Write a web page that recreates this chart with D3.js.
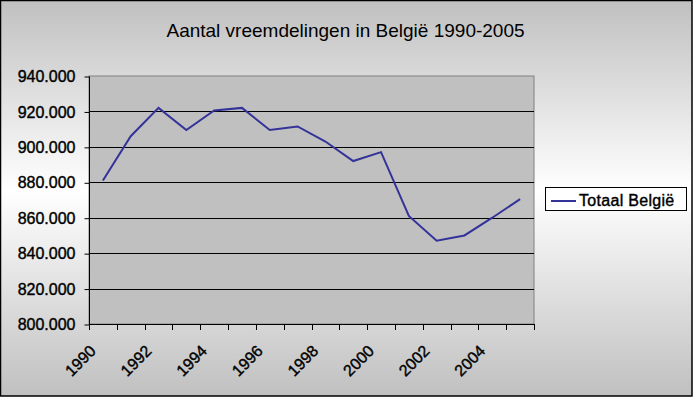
<!DOCTYPE html>
<html>
<head>
<meta charset="utf-8">
<script src="https://cdn.jsdelivr.net/npm/d3@7"></script>
<style>
  body { margin: 0; }
  svg { display: block; font-family: "Liberation Sans", Arial, sans-serif; }
</style>
</head>
<body>
<div id="chart"></div>
<script>
// data
var years = ["1990", "1991", "1992", "1993", "1994", "1995", "1996", "1997",
             "1998", "1999", "2000", "2001", "2002", "2003", "2004", "2005"];
var totaal = [881000, 906000, 922000, 909500, 920500, 922000, 909500, 911500,
              903000, 892000, 897000, 861000, 847000, 850000, 860000, 870500];
var yTicks = [800000, 820000, 840000, 860000, 880000, 900000, 920000, 940000];
var xLabels = ["1990", "1992", "1994", "1996", "1998", "2000", "2002", "2004"];
var title = "Aantal vreemdelingen in België 1990-2005";
var seriesName = "Totaal België";

var svgWidth = 693, svgHeight = 397;
var plot = { left: 89, right: 534, top: 76, bottom: 324 };

var svg = d3.select("#chart").append("svg")
  .attr("width", svgWidth)
  .attr("height", svgHeight);

// background gradient (grey - white - grey)
var grad = svg.append("defs").append("linearGradient")
  .attr("id", "bg")
  .attr("x1", 0).attr("y1", 0).attr("x2", 0).attr("y2", 1);
grad.append("stop").attr("offset", "0%").attr("stop-color", "#c0c0c0");
grad.append("stop").attr("offset", "48%").attr("stop-color", "#ffffff");
grad.append("stop").attr("offset", "100%").attr("stop-color", "#c0c0c0");

svg.append("rect")
  .attr("x", 0.5).attr("y", 0.5)
  .attr("width", svgWidth - 1.5).attr("height", svgHeight - 1.5)
  .attr("fill", "url(#bg)")
  .attr("stroke", "#000")
  .attr("stroke-width", 1.5);

// title
svg.append("text")
  .attr("x", 345.5)
  .attr("y", 36.5)
  .attr("text-anchor", "middle")
  .attr("font-size", "19px")
  .attr("fill", "#000")
  .text(title);

// scales
var xScale = d3.scaleBand()
  .domain(years)
  .range([plot.left, plot.right])
  .padding(0);

var yScale = d3.scaleLinear()
  .domain([800000, 940000])
  .range([plot.bottom, plot.top]);

var nl = d3.formatLocale({ decimal: ",", thousands: ".", grouping: [3], currency: ["€", ""] });
var fmt = nl.format(",d");

// plot area
svg.append("rect")
  .attr("x", plot.left).attr("y", plot.top)
  .attr("width", plot.right - plot.left)
  .attr("height", plot.bottom - plot.top)
  .attr("fill", "#c0c0c0")
  .attr("stroke", "#808080")
  .attr("stroke-width", 1);

// gridlines
svg.append("g")
  .selectAll("line")
  .data(yTicks.filter(d => d > 800000 && d < 940000))
  .enter()
  .append("line")
  .attr("x1", plot.left).attr("x2", plot.right)
  .attr("y1", d => Math.round(yScale(d)) + 0.5)
  .attr("y2", d => Math.round(yScale(d)) + 0.5)
  .attr("stroke", "#000")
  .attr("stroke-width", 1);

// y axis
var yAxis = d3.axisLeft(yScale)
  .tickValues(yTicks)
  .tickFormat(fmt)
  .tickSize(5)
  .tickPadding(9);

var yG = svg.append("g")
  .attr("transform", `translate(${plot.left + 0.5}, 0.5)`)
  .call(yAxis);
yG.select(".domain").attr("stroke", "#000").attr("d", `M0,${plot.top}V${plot.bottom}`);
yG.selectAll(".tick line").attr("stroke", "#000");
yG.selectAll(".tick text")
  .attr("font-family", "Liberation Sans, Arial, sans-serif")
  .attr("font-size", "16px")
  .attr("fill", "#000")
  .attr("stroke", "#000")
  .attr("stroke-width", 0.4);

// x axis: ticks at category boundaries
var xG = svg.append("g");
xG.append("line")
  .attr("x1", plot.left).attr("x2", plot.right + 1)
  .attr("y1", plot.bottom + 0.5).attr("y2", plot.bottom + 0.5)
  .attr("stroke", "#000");
xG.selectAll(".xtick")
  .data(years.concat(["end"]))
  .enter()
  .append("line")
  .attr("class", "xtick")
  .attr("x1", (d, i) => Math.round(plot.left + i * xScale.bandwidth()) + 0.5)
  .attr("x2", (d, i) => Math.round(plot.left + i * xScale.bandwidth()) + 0.5)
  .attr("y1", plot.bottom)
  .attr("y2", plot.bottom + 6)
  .attr("stroke", "#000");

xG.selectAll(".xlabel")
  .data(xLabels)
  .enter()
  .append("text")
  .attr("class", "xlabel")
  .attr("text-anchor", "end")
  .attr("font-size", "16px")
  .attr("fill", "#000")
  .attr("stroke", "#000")
  .attr("stroke-width", 0.4)
  .attr("transform", d => {
    var cx = xScale(d) + xScale.bandwidth() / 2 - 6;
    return `translate(${cx}, ${plot.bottom + 28}) rotate(-45)`;
  })
  .text(d => d);

// line
var line = d3.line()
  .x((d, i) => xScale(years[i]) + xScale.bandwidth() / 2)
  .y(d => yScale(d));

svg.append("path")
  .datum(totaal)
  .attr("d", line)
  .attr("fill", "none")
  .attr("stroke", "#333399")
  .attr("stroke-width", 2);

// legend
var legend = svg.append("g");
legend.append("rect")
  .attr("x", 545.5).attr("y", 187.5)
  .attr("width", 141).attr("height", 23)
  .attr("fill", "#fff")
  .attr("stroke", "#000");
legend.append("line")
  .attr("x1", 551).attr("x2", 576)
  .attr("y1", 201).attr("y2", 201)
  .attr("stroke", "#333399")
  .attr("stroke-width", 2);
legend.append("text")
  .attr("x", 579)
  .attr("y", 206)
  .attr("font-size", "16px")
  .attr("fill", "#000")
  .attr("stroke", "#000")
  .attr("stroke-width", 0.4)
  .attr("letter-spacing", "0.3px")
  .text(seriesName);
</script>
</body>
</html>
